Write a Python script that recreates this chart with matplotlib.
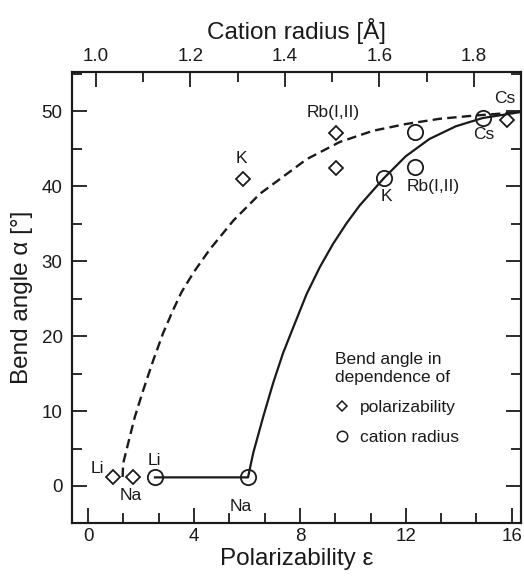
import matplotlib
matplotlib.use("agg")
import matplotlib.pyplot as plt
from matplotlib.lines import Line2D
from matplotlib.ticker import MultipleLocator

plt.rcParams['font.family'] = ['Liberation Sans', 'DejaVu Sans']

# bend angle vs polarizability (diamonds, bottom axis)
pol_names = ['Li', 'Na', 'K', 'Rb(I,II)', 'Rb', 'Cs']
pol_eps = [0.92, 1.70, 5.84, 9.36, 9.36, 15.81]
pol_alpha = [1.15, 1.15, 41.0, 47.1, 42.4, 48.9]

# bend angle vs cation radius (circles, top axis)
rad_names = ['Li', 'Na', 'K', 'Rb(I,II)', 'Rb', 'Cs']
rad_r = [1.125, 1.322, 1.610, 1.675, 1.675, 1.820]
rad_alpha = [1.15, 1.15, 41.1, 47.2, 42.5, 49.1]

# dashed fit curve (polarizability axis)
fit_eps = [1.30, 1.32, 1.51, 1.76, 2.08, 2.46, 2.83, 3.21, 3.53, 4.00, 4.60,
           5.48, 6.49, 6.99, 8.25, 9.50, 10.76, 12.00, 13.28, 14.50, 16.35]
fit_eps_alpha = [1.2, 3.0, 5.7, 9.2, 12.8, 16.8, 20.4, 23.5, 25.9, 28.6, 31.6,
                 35.4, 39.0, 40.3, 43.6, 45.9, 47.4, 48.3, 49.0, 49.4, 49.9]

# solid fit curve (cation radius axis)
fit_r = [1.125, 1.322, 1.333, 1.354, 1.375, 1.396, 1.418, 1.446, 1.474, 1.502,
         1.530, 1.558, 1.586, 1.610, 1.656, 1.706, 1.762, 1.819, 1.899]
fit_r_alpha = [1.15, 1.15, 4.4, 9.2, 13.7, 17.7, 21.2, 25.6, 29.2, 32.3,
               35.0, 37.4, 39.4, 41.1, 44.0, 46.3, 48.0, 49.1, 49.9]

# label positions (in polarizability / angle coordinates)
pol_label_xy = [(0.34, 2.4), (1.61, -1.3), (5.8, 43.7), (9.26, 49.9), None, (15.75, 51.7)]
rad_label_xy = [(2.49, 3.4), (5.77, -2.8), (11.25, 38.6), (13.02, 39.9), None, (14.95, 46.9)]

ink = '#1a1a1a'

fig = plt.figure(figsize=(5.24, 5.79), dpi=100)
ax = fig.add_axes([0.138, 0.0972, 0.8563, 0.7779])
ax2 = ax.twiny()

ax.plot(fit_eps, fit_eps_alpha, color=ink, lw=1.7, dashes=(4.0, 2.2))
ax2.plot(fit_r, fit_r_alpha, color=ink, lw=1.6)

ax.plot(pol_eps, pol_alpha, ls='none', marker='D', ms=7, mfc='none',
        mec=ink, mew=1.3)
ax2.plot(rad_r, rad_alpha, ls='none', marker='o', ms=11, mfc='none',
         mec=ink, mew=1.3)

for name, xy in zip(pol_names, pol_label_xy):
    if xy is not None:
        ax.text(xy[0], xy[1], name, ha='center', va='center', fontsize=12.5, color=ink)
for name, xy in zip(rad_names, rad_label_xy):
    if xy is not None:
        ax.text(xy[0], xy[1], name, ha='center', va='center', fontsize=12.5, color=ink)

ax.set_xlim(-0.6, 16.35)
ax.set_ylim(-4.9, 55.2)
ax2.set_xlim(0.95, 1.90)

ax.xaxis.set_major_locator(MultipleLocator(4))
ax.xaxis.set_minor_locator(MultipleLocator(4 / 3))
ax.yaxis.set_major_locator(MultipleLocator(10))
ax.yaxis.set_minor_locator(MultipleLocator(5))
ax2.xaxis.set_major_locator(MultipleLocator(0.2))
ax2.xaxis.set_minor_locator(MultipleLocator(0.1))
ax2.set_xticks([1.0, 1.2, 1.4, 1.6, 1.8])
ax2.set_xticklabels(['1.0', '1.2', '1.4', '1.6', '1.8'])

ax.tick_params(axis='both', which='both', direction='in', colors=ink,
               labelsize=13.5, width=1.3, right=True)
ax.tick_params(axis='both', which='major', length=11)
ax.tick_params(axis='both', which='minor', length=7.5)
ax.tick_params(axis='x', which='major', pad=4)
ax.tick_params(axis='y', which='major', pad=7)
ax2.tick_params(axis='x', which='both', direction='in', colors=ink,
                labelsize=13.5, width=1.3, pad=5)
ax2.tick_params(axis='x', which='major', length=11)
ax2.tick_params(axis='x', which='minor', length=7.5)

for a in (ax, ax2):
    for sp in a.spines.values():
        sp.set_linewidth(1.5)
        sp.set_color(ink)

ax.set_xlabel('Polarizability \u03b5', fontsize=17.5, color=ink, labelpad=2)
ax.set_ylabel('Bend angle \u03b1 [\u00b0]', fontsize=17.5, color=ink, labelpad=6)
ax2.set_xlabel('Cation radius [\u00c5]', fontsize=17.5, color=ink, labelpad=7)

handles = [Line2D([], [], ls='none', marker='D', ms=5.2, mfc='none', mec=ink, mew=1.1),
           Line2D([], [], ls='none', marker='o', ms=7.5, mfc='none', mec=ink, mew=1.1)]
leg = ax.legend(handles, ['polarizability', 'cation radius'],
                title='Bend angle in\ndependence of', title_fontsize=12.5,
                fontsize=12.5, frameon=False, alignment='left',
                loc='upper left', bbox_to_anchor=(0.586, 0.378),
                borderpad=0, borderaxespad=0, handlelength=0.8,
                handletextpad=0.6, labelspacing=0.85)
for t in leg.get_texts():
    t.set_color(ink)
leg.get_title().set_color(ink)

fig.savefig('out.png', dpi=100)
